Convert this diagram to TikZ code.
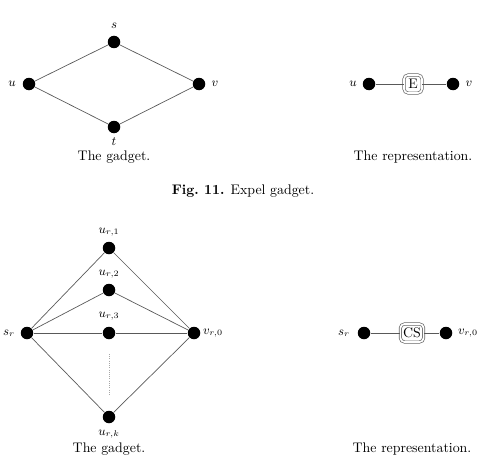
\documentclass[tikz,border=0pt]{standalone}
\begin{document}
\begin{tikzpicture}[x=0.72pt,y=-0.72pt,
  vtx/.style={circle,fill=black,inner sep=0pt,minimum size=9pt},
  lbl/.style={inner sep=1pt,font=\small},
  edge/.style={draw=black!65,line width=0.5pt},
  gbox/.style={draw=black!60,double=white,double distance=1.2pt,line width=0.5pt,rounded corners=3pt,inner sep=2pt,minimum height=13pt,minimum width=13pt},
  captxt/.style={inner sep=0pt,font=\normalsize}]
\useasboundingbox (0,0) rectangle (486,461);
% top gadget
\node[vtx] (u) at (29,84) {};
\node[vtx] (s) at (114,42) {};
\node[vtx] (v) at (199,84) {};
\node[vtx] (t) at (114,127) {};
\node[lbl] (ls) at (114,26) {$s$};
\node[lbl] (lu) at (12,84) {$u$};
\node[lbl] (lv) at (215,84) {$v$};
\node[lbl] (lt) at (114,142) {$t$};
\draw[edge] (u) -- (s) -- (v) -- (t) -- (u);
\node[captxt] (c1) at (114,157) {The gadget.};
% top representation
\node[vtx] (u2) at (369,84) {};
\node[gbox] (E) at (413,84) {E};
\node[vtx] (v2) at (453,84) {};
\node[lbl] (lu2) at (353,84) {$u$};
\node[lbl] (lv2) at (469,84) {$v$};
\draw[edge] (u2) -- (E) -- (v2);
\node[captxt] (c2) at (413,157) {The representation.};
% fig caption
\node[captxt] (fig) at (243,191) {\textbf{Fig.\ 11.} Expel gadget.};
% bottom gadget
\node[vtx] (sr) at (27,333) {};
\node[vtx] (u1) at (109,248) {};
\node[vtx] (ur2) at (109,290) {};
\node[vtx] (u3) at (109,333) {};
\node[vtx] (v0) at (194,333) {};
\node[vtx] (uk) at (109,417) {};
\node[lbl] (lu1) at (109,232) {$u_{r,1}$};
\node[lbl] (lur2) at (109,274) {$u_{r,2}$};
\node[lbl] (lu3) at (109,316) {$u_{r,3}$};
\node[lbl] (luk) at (109,434) {$u_{r,k}$};
\node[lbl] (lsr) at (9,333) {$s_r$};
\node[lbl] (lv0) at (213,333) {$v_{r,0}$};
\draw[edge] (sr) -- (u1) -- (v0);
\draw[edge] (sr) -- (ur2) -- (v0);
\draw[edge] (sr) -- (u3) -- (v0);
\draw[edge] (sr) -- (uk) -- (v0);
\coordinate (d1) at (109,354);
\coordinate (d2) at (109,396);
\draw[black!35,line width=0.4pt,dash pattern=on 0.4pt off 1.2pt] (d1) -- (d2);
\node[captxt] (c3) at (109,449) {The gadget.};
% bottom representation
\node[vtx] (sr2) at (364,333) {};
\node[gbox] (CS) at (412,333) {CS};
\node[vtx] (v02) at (446,333) {};
\node[lbl] (lsr2) at (344,333) {$s_r$};
\node[lbl] (lv02) at (468,333) {$v_{r,0}$};
\draw[edge] (sr2) -- (CS) -- (v02);
\node[captxt] (c4) at (412,449) {The representation.};
\end{tikzpicture}
\end{document}
